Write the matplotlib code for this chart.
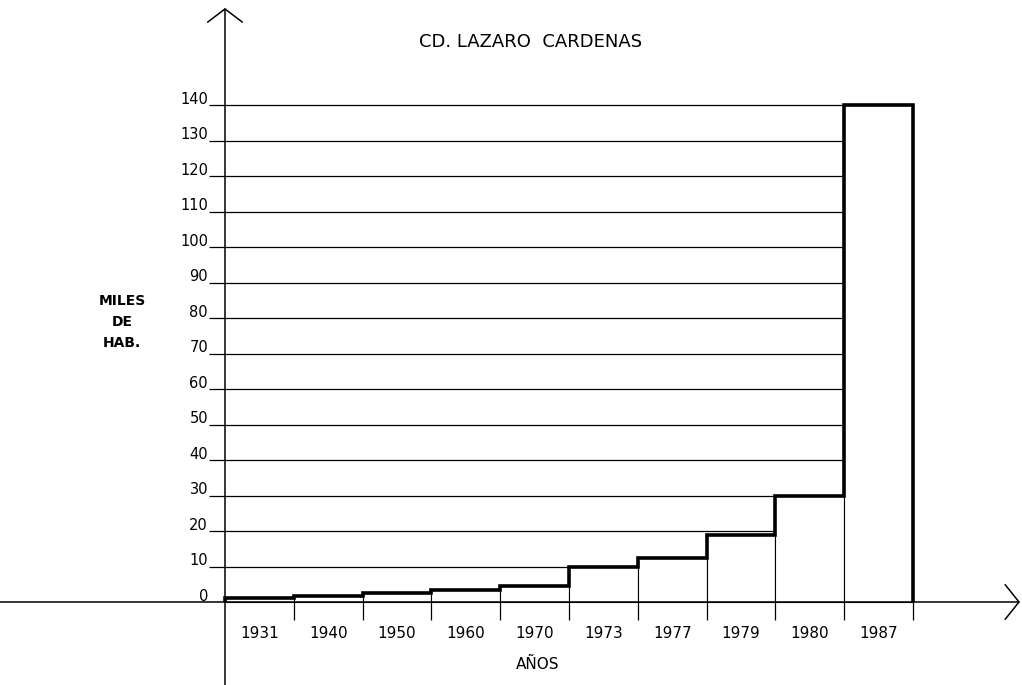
import matplotlib.pyplot as plt
import numpy as np

# years (one column each) and population in thousands
years = ['1931', '1940', '1950', '1960', '1970', '1973', '1977', '1979', '1980', '1987']
miles_hab = [1.2, 1.8, 2.4, 3.4, 4.6, 10, 12.5, 19, 30, 140]
yticks = list(range(0, 150, 10))

W, H = 1022, 685
# pixel -> data helpers (y axis at px 225, bins 68.8px, 0 at py 602, 140 at py 105)
X0, BW = 225.0, 68.8
Y0, YS = 602.0, (602.0 - 105.0) / 140.0
def dx(p): return (p - X0) / BW
def dy(p): return (Y0 - p) / YS

fig = plt.figure(figsize=(W / 100, H / 100), dpi=100)
ax = fig.add_axes([0, 0, 1, 1])
ax.set_xlim(dx(0), dx(W))
ax.set_ylim(dy(H), dy(0))
ax.axis('off')

n = len(years)
edges = np.arange(n + 1)

# horizontal grid lines (with the little underscore left of the axis)
for v in yticks[1:]:
    ax.hlines(v, dx(209), n, color='black', lw=0.9, zorder=1)
    ax.text(dx(208), v + 0.4, str(v), ha='right', va='baseline', fontsize=10.5,
            family='DejaVu Sans', zorder=5)
ax.text(dx(208), 0.4, '0', ha='right', va='baseline', fontsize=10.5,
        family='DejaVu Sans', zorder=5)

# white bars hide the grid below the steps
ax.bar(edges[:-1], miles_hab, width=1, align='edge', color='white',
       edgecolor='black', lw=0.8, zorder=2)
# thick stepped outline
ax.stairs(miles_hab, edges, baseline=0, color='black', lw=2.6, zorder=3)

# tick marks below x axis
ax.vlines(edges[1:], 0, dy(620), color='black', lw=0.9, zorder=3)

# axes with open arrow heads
ax.annotate('', xy=(0, dy(8)), xytext=(0, dy(H)),
            arrowprops=dict(arrowstyle='->, head_length=0.38, head_width=0.5',
                            lw=1.1, color='black', mutation_scale=25,
                            shrinkA=0, shrinkB=0), zorder=4)
ax.annotate('', xy=(dx(1020), 0), xytext=(dx(0), 0),
            arrowprops=dict(arrowstyle='->, head_length=0.4, head_width=0.5',
                            lw=1.1, color='black', mutation_scale=25,
                            shrinkA=0, shrinkB=0), zorder=4)

# year labels
for i, yr in enumerate(years):
    ax.text(i + 0.5, dy(633), yr, ha='center', va='center', fontsize=11,
            family='DejaVu Sans')

ax.text(dx(538), dy(664), 'AÑOS', ha='center', va='center', fontsize=11,
        family='DejaVu Sans')
ax.text(dx(122), dy(322), 'MILES\nDE\nHAB.', ha='center', va='center',
        fontsize=10, family='DejaVu Sans', linespacing=1.6, fontweight='bold')
ax.text(dx(531), dy(42), 'CD. LAZARO  CARDENAS', ha='center', va='center',
        fontsize=13, family='DejaVu Sans')

fig.savefig('out.png', dpi=100)
